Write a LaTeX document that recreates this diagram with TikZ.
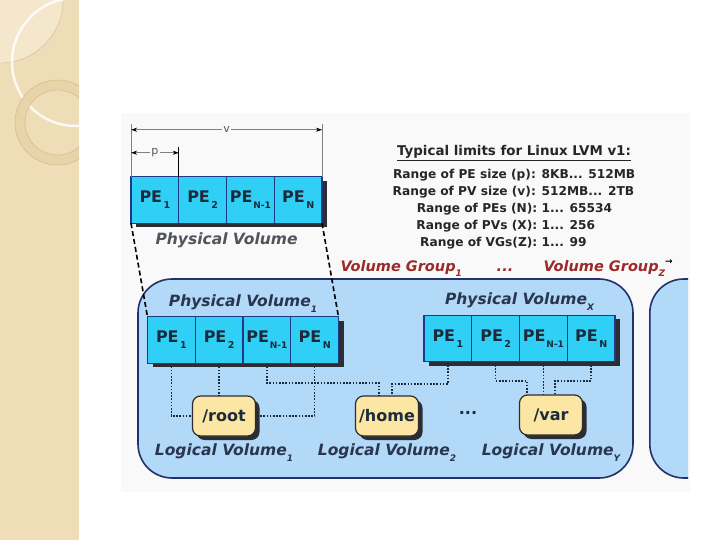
\documentclass[tikz,border=0pt]{standalone}
\usepackage{fontspec}
\setmainfont{DejaVu Sans}
\usetikzlibrary{arrows.meta,positioning,shadows}
\definecolor{lvcyan}{HTML}{30D0F6}
\definecolor{lvnavy}{HTML}{1E3A86}
\definecolor{lvink}{HTML}{1B2B3C}
\definecolor{lvsky}{HTML}{B2D9F7}
\definecolor{lvframe}{HTML}{24306C}
\definecolor{lvcream}{HTML}{FCE6A4}
\definecolor{lvred}{HTML}{9C2A2A}
\definecolor{lvgray}{HTML}{50555C}
\definecolor{lvslate}{HTML}{2A3550}
\definecolor{lvshade}{HTML}{2C2C33}
\definecolor{lvtan}{HTML}{EFDDB7}
\definecolor{lvtanlight}{HTML}{F4E7CB}
\definecolor{lvtandark}{HTML}{E9D3A9}
\definecolor{lvring}{HTML}{C9B48C}
\definecolor{lvpanel}{HTML}{F9F9F9}
\newcommand{\lo}[2][9.5]{\raisebox{-0.38em}{\fontsize{#1}{#1}\selectfont #2}}

\begin{document}
\begin{tikzpicture}[x=1pt, y=-1pt,
    pe/.style={draw=lvnavy, fill=lvcyan, line width=1.3pt, outer sep=0pt,
      inner sep=0pt, minimum width=47.75pt, minimum height=46.5pt, text=lvink,
      font=\bfseries\fontsize{16}{16}\selectfont,
      drop shadow={shadow xshift=5pt, shadow yshift=-4pt, opacity=1, fill=lvshade}},
    lv/.style={draw=lvshade, fill=lvcream, line width=1.2pt, rounded corners=8pt,
      minimum width=63pt, minimum height=40pt, inner sep=0pt, text=lvink,
      font=\bfseries\fontsize{16}{16}\selectfont,
      drop shadow={shadow xshift=4pt, shadow yshift=-4pt, opacity=1, fill=lvshade}},
    vg/.style={draw=lvframe, fill=lvsky, line width=1.6pt, rounded corners=34pt,
      minimum height=199pt},
    pvname/.style={text=lvslate, font=\bfseries\itshape\fontsize{15.5}{16}\selectfont},
    lvname/.style={text=lvslate, font=\bfseries\itshape\fontsize{15.5}{16}\selectfont},
    vgname/.style={text=lvred, font=\bfseries\itshape\fontsize{14.5}{15}\selectfont},
    link/.style={draw=lvink, line width=1.6pt, dash pattern=on 1.6pt off 1.6pt},
    proj/.style={draw=black, line width=1.6pt, dash pattern=on 5pt off 3pt},
    dimline/.style={draw=gray, line width=.6pt},
    dimarrow/.style={draw=gray, line width=.6pt,
      {Stealth[length=6pt,width=4pt,black]}-{Stealth[length=6pt,width=4pt,black]}},
  ]
  \useasboundingbox (0,0) rectangle (720,540);
  \fill[white] (0,0) rectangle (720,540);

  % slide strip
  \begin{scope}
    \clip (0,0) rectangle (79,540);
    \fill[lvtan] (0,0) rectangle (79,540);
    \fill[lvtanlight] (0,0) circle[radius=63pt];
    \draw[lvring, line width=.3pt] (0,0) circle[radius=63pt];
    \draw[white, line width=2.5pt, opacity=.85] (76,62) circle[radius=64pt];
    \filldraw[lvtandark, draw=lvring, line width=.4pt, even odd rule]
      (57.5,122.5) circle[radius=42.5pt] (57.5,122.5) circle[radius=32.5pt];
  \end{scope}
  \fill[lvpanel] (121,113) rectangle (690,492);

  % volume groups
  \node[vg, minimum width=495pt] (vg1) at (385.5,378.5) {};
  \begin{scope}
    \clip (640,270) rectangle (688,492);
    \node[vg, minimum width=120pt, anchor=west] (vg2) at (649,378.5) {};
  \end{scope}

  % single physical volume
  \node[pe] (tpe1) at (154.9,200) {PE\kern1.5pt\lo{1}};
  \node[pe, right=0pt of tpe1] (tpe2) {PE\kern1.5pt\lo{2}};
  \node[pe, right=0pt of tpe2] (tpe3) {PE\kern1pt\lo[9]{N-1}};
  \node[pe, right=0pt of tpe3] (tpe4) {PE\kern1.5pt\lo{N}};
  \node[pvname, text=lvgray, below=6pt of tpe2.south east] (pvtop) {Physical Volume};

  \draw[dimline] (tpe1.north west) -- +(0,-53) coordinate (vL);
  \draw[dimline] (tpe4.north east) -- +(0,-53) coordinate (vR);
  \draw[dimline, draw=black] (tpe1.north east) -- +(0,-30) coordinate (pR);
  \draw[dimarrow] ([yshift=-6pt]vL) -- ([yshift=-6pt]vR)
    node[midway, fill=lvpanel, inner sep=1.5pt, text=lvgray, font=\fontsize{11}{11}\selectfont] {v};
  \draw[dimarrow] ([yshift=-6pt]pR -| vL) -- ([yshift=-6pt]pR)
    node[midway, fill=lvpanel, inner sep=1.5pt, text=lvgray, font=\fontsize{11}{11}\selectfont] {p};

  % limits table
  \node[anchor=north, text=black!85, align=center] (limits) at (514,140)
    {\bfseries\fontsize{12.2}{17}\selectfont
     \begin{tabular}{@{}r@{ }l@{}}
       \multicolumn{2}{@{}c@{}}{\fontsize{13.4}{17}\selectfont\underline{Typical limits for Linux LVM v1:}\hspace{5pt}}\\[6pt]
       Range of PE size (p): & 8KB... 512MB\\
       Range of PV size (v): & 512MB... 2TB\\
       Range of PEs (N): & 1... 65534\\
       Range of PVs (X): & 1... 256\\
       Range of VGs(Z): & 1... 99
     \end{tabular}};

  \node[vgname, anchor=base west] (vgname1) at (337,271) {Volume Group\lo[9]{1}};
  \node[vgname, anchor=base] (vgdots) at (505,271) {...};
  \node[vgname, anchor=base west] (vgnameZ) at (540,271)
    {Volume Group\lo[9]{Z}\raisebox{0.45em}{\fontsize{9}{9}\selectfont\color{black}→}};

  % projection of the physical volume
  \draw[proj] (tpe1.south west) -- (147.5,317);
  \draw[proj] (tpe4.south east) -- (338.5,317);

  % physical volume 1
  \node[pe] (ape1) at (171.4,340) {PE\kern1.5pt\lo{1}};
  \node[pe, right=0pt of ape1] (ape2) {PE\kern1.5pt\lo{2}};
  \node[pe, right=0pt of ape2] (ape3) {PE\kern1pt\lo[9]{N-1}};
  \node[pe, right=0pt of ape3] (ape4) {PE\kern1.5pt\lo{N}};
  \node[pvname, above=1pt of ape2.north east] (pvone) {Physical Volume\lo[9]{1}};

  % physical volume X
  \node[pe] (bpe1) at (447.9,338.5) {PE\kern1.5pt\lo{1}};
  \node[pe, right=0pt of bpe1] (bpe2) {PE\kern1.5pt\lo{2}};
  \node[pe, right=0pt of bpe2] (bpe3) {PE\kern1pt\lo[9]{N-1}};
  \node[pe, right=0pt of bpe3] (bpe4) {PE\kern1.5pt\lo{N}};
  \node[pvname, above=1pt of bpe2.north east] (pvx) {Physical Volume\lo[9]{X}};

  % logical volumes
  \node[lv] (root) at (224,416) {/root};
  \node[lv] (home) at (387,416) {/home};
  \node[lv] (var) at (551,415) {/var};
  \node[text=lvink, font=\bfseries\fontsize{16}{16}\selectfont] (lvdots) at (468,413) {...};
  \node[lvname, below=4pt of root] (lvone) {Logical Volume\lo[9]{1}};
  \node[lvname, below=4pt of home] (lvtwo) {Logical Volume\lo[9]{2}};
  \node[lvname, below=5pt of var] (lvy) {Logical Volume\lo[9]{Y}};

  % extents to logical volumes
  \draw[link] (ape1.south) |- (root.west);
  \draw[link] (ape2.south) -- (ape2.south |- root.north);
  \draw[link] (ape3.south) -- ++(0,20) -| ([xshift=-8pt]home.north);
  \draw[link] (ape4.south) |- (root.east);
  \draw[link] (bpe1.south) -- ++(0,22) -| ([xshift=5pt]home.north);
  \draw[link] (bpe2.south) -- ++(0,19) -| ([xshift=-24pt]var.north);
  \draw[link] (bpe3.south) -- (bpe3.south |- var.north);
  \draw[link] (bpe4.south) -- ++(0,19) -| ([xshift=4pt]var.north);
\end{tikzpicture}
\end{document}
